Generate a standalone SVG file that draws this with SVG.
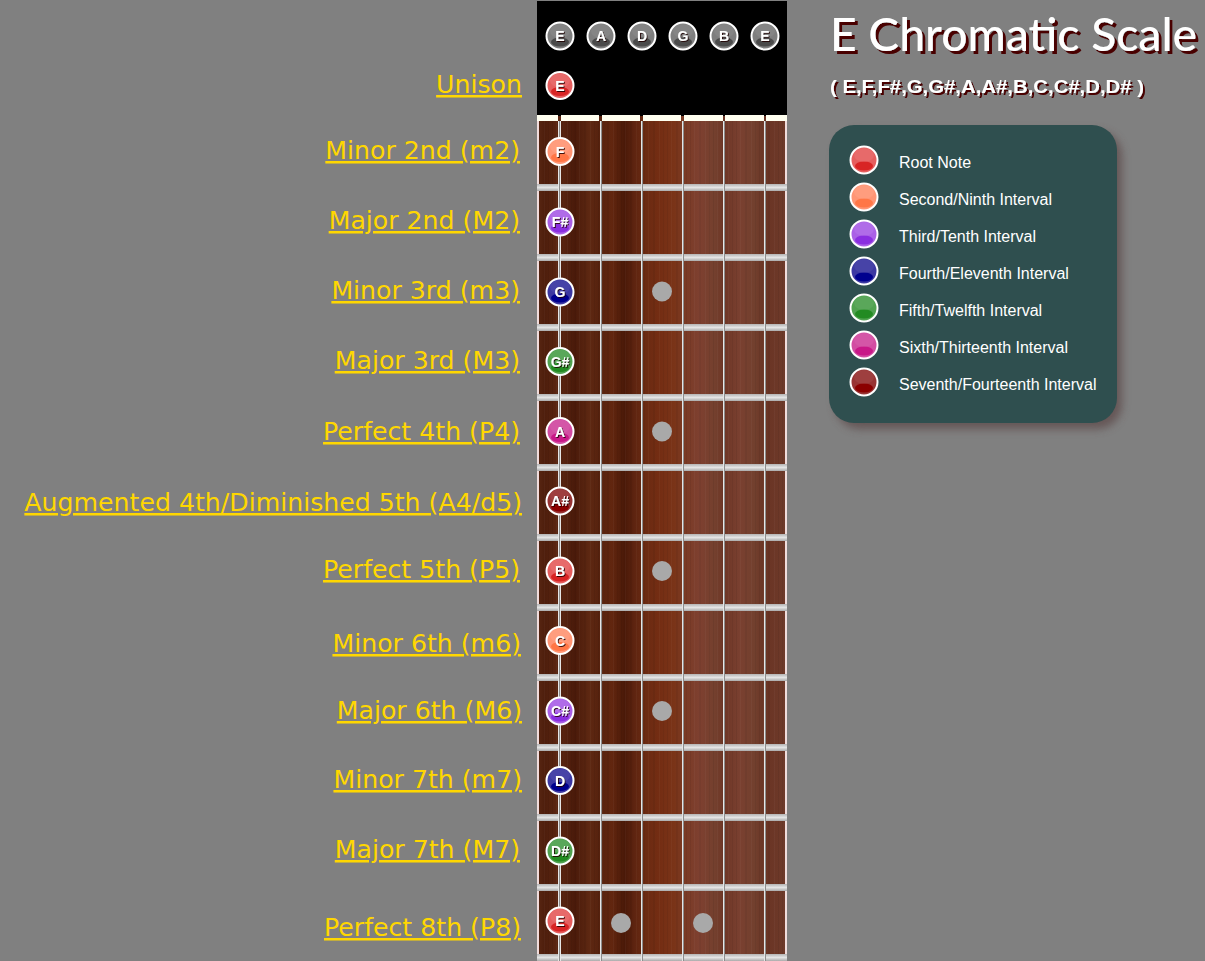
<svg xmlns="http://www.w3.org/2000/svg" xmlns:xlink="http://www.w3.org/1999/xlink" width="1205" height="961" viewBox="0 0 1205 961">
<style>
.lbl{font-family:"DejaVu Sans",Verdana,sans-serif;font-size:25.2px;fill:#ffd700;text-anchor:end;text-decoration:underline}
.nt{font-family:"Liberation Sans",Arial,sans-serif;font-size:14px;font-weight:bold;fill:#fff;text-anchor:middle;filter:url(#tsh)}
.lg{font-family:"Liberation Sans",Arial,sans-serif;font-size:16px;fill:#fff}
.inlay{fill:#a9a9a9}
.str1{stroke:#e6e6e6;stroke-width:1}
.str2{stroke:#8c8c8c;stroke-width:1}
.ring{stroke:#fff;stroke-width:2}
</style>
<defs>
<linearGradient id="wood" gradientUnits="userSpaceOnUse" x1="537" y1="0" x2="787" y2="0">
<stop offset="0" stop-color="#5a2814"/>
<stop offset="0.03" stop-color="#4e1e0c"/>
<stop offset="0.09" stop-color="#5c2612"/>
<stop offset="0.15" stop-color="#4a1a0a"/>
<stop offset="0.21" stop-color="#5e2812"/>
<stop offset="0.25" stop-color="#56220e"/>
<stop offset="0.30" stop-color="#62260f"/>
<stop offset="0.35" stop-color="#4a1908"/>
<stop offset="0.39" stop-color="#5e2410"/>
<stop offset="0.43" stop-color="#6a2a12"/>
<stop offset="0.49" stop-color="#742d13"/>
<stop offset="0.55" stop-color="#7a3418"/>
<stop offset="0.59" stop-color="#7a3a24"/>
<stop offset="0.65" stop-color="#7e4030"/>
<stop offset="0.71" stop-color="#74402e"/>
<stop offset="0.75" stop-color="#6e3626"/>
<stop offset="0.81" stop-color="#7a4030"/>
<stop offset="0.87" stop-color="#72402e"/>
<stop offset="0.91" stop-color="#6a3424"/>
<stop offset="1" stop-color="#6e3a2a"/>
</linearGradient>
<pattern id="grain" width="23" height="20" patternUnits="userSpaceOnUse">
<rect x="0" y="0" width="1" height="20" fill="#000" opacity="0.06"/>
<rect x="4" y="0" width="1" height="20" fill="#fff" opacity="0.03"/>
<rect x="9" y="0" width="2" height="20" fill="#000" opacity="0.05"/>
<rect x="15" y="0" width="1" height="20" fill="#fff" opacity="0.03"/>
<rect x="19" y="0" width="1" height="20" fill="#000" opacity="0.05"/>
</pattern>
<linearGradient id="fret" x1="0" y1="0" x2="0" y2="1">
<stop offset="0" stop-color="#b4b4b4"/>
<stop offset="0.5" stop-color="#e4e4e4"/>
<stop offset="1" stop-color="#aaaaaa"/>
</linearGradient>
<filter id="tsh" x="-30%" y="-30%" width="160%" height="160%">
<feDropShadow dx="1" dy="1" stdDeviation="0.4" flood-color="#200" flood-opacity="0.85"/>
</filter>
<filter id="titlesh" x="-5%" y="-20%" width="110%" height="150%">
<feDropShadow dx="3" dy="3" stdDeviation="0.3" flood-color="#4a0000" flood-opacity="1"/>
</filter>
<filter id="subsh" x="-5%" y="-20%" width="110%" height="150%">
<feDropShadow dx="2" dy="2" stdDeviation="0.3" flood-color="#4a0000" flood-opacity="1"/>
</filter>
<filter id="blur6" x="-20%" y="-20%" width="140%" height="140%">
<feGaussianBlur stdDeviation="4"/>
</filter>
<g id="c-root"><circle r="13.5" fill="#e55e5e" class="ring"/><ellipse cy="6" rx="9" ry="4.5" fill="#d82424"/><ellipse cy="-5" rx="10" ry="7" fill="#fff" opacity="0.08"/></g>
<g id="c-2"><circle r="13.5" fill="#ff9574" class="ring"/><ellipse cy="6" rx="9" ry="4.5" fill="#ff7646"/><ellipse cy="-5" rx="10" ry="7" fill="#fff" opacity="0.08"/></g>
<g id="c-3"><circle r="13.5" fill="#aa60e6" class="ring"/><ellipse cy="6" rx="9" ry="4.5" fill="#8a2ee0"/><ellipse cy="-5" rx="10" ry="7" fill="#fff" opacity="0.08"/></g>
<g id="c-4"><circle r="13.5" fill="#3c38a2" class="ring"/><ellipse cy="6" rx="9" ry="4.5" fill="#00008e"/><ellipse cy="-5" rx="10" ry="7" fill="#fff" opacity="0.06"/></g>
<g id="c-5"><circle r="13.5" fill="#50a250" class="ring"/><ellipse cy="6" rx="9" ry="4.5" fill="#228b22"/><ellipse cy="-5" rx="10" ry="7" fill="#fff" opacity="0.06"/></g>
<g id="c-6"><circle r="13.5" fill="#d24ca2" class="ring"/><ellipse cy="6" rx="9" ry="4.5" fill="#c81888"/><ellipse cy="-5" rx="10" ry="7" fill="#fff" opacity="0.06"/></g>
<g id="c-7"><circle r="13.5" fill="#983434" class="ring"/><ellipse cy="6" rx="9" ry="4.5" fill="#8b0000"/><ellipse cy="-5" rx="10" ry="7" fill="#fff" opacity="0.06"/></g>
<g id="c-open"><circle r="13.5" fill="#7e7e7e" class="ring"/><ellipse cy="6" rx="9" ry="4.5" fill="#4a4a4a"/><ellipse cy="-5" rx="10" ry="7" fill="#fff" opacity="0.06"/></g>
</defs>

<rect x="0" y="0" width="1205" height="961" fill="#808080"/>

<!-- header -->
<g id="header">
<rect x="537" y="1" width="250" height="115" fill="#000"/>
</g>

<!-- fretboard -->
<g id="fretboard">
<rect x="537" y="116" width="250" height="845" fill="url(#wood)"/>
<rect x="537" y="116" width="250" height="845" fill="url(#grain)"/>
<rect x="537" y="116" width="2" height="845" fill="#f0dcdc"/>
<rect x="785" y="116" width="2" height="845" fill="#f0dcdc"/>
<g id="nut" fill="#fffff0">
<rect x="537" y="115" width="21" height="6"/>
<rect x="561" y="115" width="38" height="6"/>
<rect x="602" y="115" width="38" height="6"/>
<rect x="643" y="115" width="38" height="6"/>
<rect x="684" y="115" width="39" height="6"/>
<rect x="725" y="115" width="39" height="6"/>
<rect x="766" y="115" width="21" height="6"/>
</g>
<g id="frets" fill="url(#fret)">
<rect x="537" y="184" width="250" height="7"/>
<rect x="537" y="254" width="250" height="7"/>
<rect x="537" y="324" width="250" height="7"/>
<rect x="537" y="394" width="250" height="7"/>
<rect x="537" y="464" width="250" height="7"/>
<rect x="537" y="534" width="250" height="7"/>
<rect x="537" y="604" width="250" height="7"/>
<rect x="537" y="674" width="250" height="7"/>
<rect x="537" y="744" width="250" height="7"/>
<rect x="537" y="814" width="250" height="7"/>
<rect x="537" y="884" width="250" height="7"/>
<rect x="537" y="954" width="250" height="7"/>
</g>
<g id="inlays">
<circle class="inlay" cx="662" cy="291.5" r="10"/>
<circle class="inlay" cx="662" cy="431.5" r="10"/>
<circle class="inlay" cx="662" cy="571" r="10"/>
<circle class="inlay" cx="662" cy="711" r="10"/>
<circle class="inlay" cx="621" cy="923" r="10"/>
<circle class="inlay" cx="703" cy="923" r="10"/>
</g>
<g id="strings">
<line class="str1" x1="558.5" y1="121" x2="558.5" y2="961"/>
<line class="str2" x1="559.5" y1="121" x2="559.5" y2="961"/>
<line class="str1" x1="560.5" y1="121" x2="560.5" y2="961"/>
<line class="str1" x1="600.5" y1="121" x2="600.5" y2="961"/>
<line class="str2" x1="601.5" y1="121" x2="601.5" y2="961"/>
<line class="str1" x1="641.5" y1="121" x2="641.5" y2="961"/>
<line class="str2" x1="642.5" y1="121" x2="642.5" y2="961"/>
<line class="str1" x1="682.5" y1="121" x2="682.5" y2="961"/>
<line class="str2" x1="683.5" y1="121" x2="683.5" y2="961"/>
<line class="str1" x1="723.5" y1="121" x2="723.5" y2="961"/>
<line class="str2" x1="724.5" y1="121" x2="724.5" y2="961"/>
<line class="str1" x1="764.5" y1="121" x2="764.5" y2="961"/>
<line class="str2" x1="765.5" y1="121" x2="765.5" y2="961"/>
</g>
</g>

<!-- open strings -->
<g id="open-strings">
<g id="open-E6"><use href="#c-open" x="560" y="36"/><text class="nt" x="560" y="41">E</text></g>
<g id="open-A"><use href="#c-open" x="601" y="36"/><text class="nt" x="601" y="41">A</text></g>
<g id="open-D"><use href="#c-open" x="642" y="36"/><text class="nt" x="642" y="41">D</text></g>
<g id="open-G"><use href="#c-open" x="683" y="36"/><text class="nt" x="683" y="41">G</text></g>
<g id="open-B"><use href="#c-open" x="724" y="36"/><text class="nt" x="724" y="41">B</text></g>
<g id="open-E1"><use href="#c-open" x="765" y="36"/><text class="nt" x="765" y="41">E</text></g>
</g>

<!-- scale notes -->
<g id="notes">
<g id="n-unison"><use href="#c-root" x="560" y="85.5"/><text class="nt" x="560" y="90.5">E</text></g>
<g id="n-F"><use href="#c-2" x="560" y="151.5"/><text class="nt" x="560" y="156.5">F</text></g>
<g id="n-Fs"><use href="#c-3" x="560" y="222"/><text class="nt" x="560" y="227">F#</text></g>
<g id="n-G"><use href="#c-4" x="560" y="292"/><text class="nt" x="560" y="297">G</text></g>
<g id="n-Gs"><use href="#c-5" x="560" y="361.5"/><text class="nt" x="560" y="366.5">G#</text></g>
<g id="n-A"><use href="#c-6" x="560" y="431.5"/><text class="nt" x="560" y="436.5">A</text></g>
<g id="n-As"><use href="#c-7" x="560" y="501"/><text class="nt" x="560" y="506">A#</text></g>
<g id="n-B"><use href="#c-root" x="560" y="571"/><text class="nt" x="560" y="576">B</text></g>
<g id="n-C"><use href="#c-2" x="560" y="640.5"/><text class="nt" x="560" y="645.5">C</text></g>
<g id="n-Cs"><use href="#c-3" x="560" y="711"/><text class="nt" x="560" y="716">C#</text></g>
<g id="n-D"><use href="#c-4" x="560" y="780.5"/><text class="nt" x="560" y="785.5">D</text></g>
<g id="n-Ds"><use href="#c-5" x="560" y="851"/><text class="nt" x="560" y="856">D#</text></g>
<g id="n-E"><use href="#c-root" x="560" y="921"/><text class="nt" x="560" y="926">E</text></g>
</g>

<!-- interval labels -->
<g id="labels">
<text class="lbl" x="522" y="93">Unison</text>
<text class="lbl" x="520" y="159">Minor 2nd (m2)</text>
<text class="lbl" x="520" y="229">Major 2nd (M2)</text>
<text class="lbl" x="520" y="299">Minor 3rd (m3)</text>
<text class="lbl" x="520" y="369">Major 3rd (M3)</text>
<text class="lbl" x="520" y="440">Perfect 4th (P4)</text>
<text class="lbl" x="522" y="511">Augmented 4th/Diminished 5th (A4/d5)</text>
<text class="lbl" x="520" y="578">Perfect 5th (P5)</text>
<text class="lbl" x="521" y="652">Minor 6th (m6)</text>
<text class="lbl" x="522" y="719">Major 6th (M6)</text>
<text class="lbl" x="522" y="788">Minor 7th (m7)</text>
<text class="lbl" x="520" y="858">Major 7th (M7)</text>
<text class="lbl" x="521" y="936">Perfect 8th (P8)</text>
</g>

<!-- title -->
<g id="title">
<text x="830" y="51" font-family="Lato,'Open Sans',sans-serif" font-weight="500" font-size="46" textLength="367" lengthAdjust="spacingAndGlyphs" fill="#fff" filter="url(#titlesh)">E Chromatic Scale</text>
<text x="830" y="93" font-family="'Liberation Sans',Arial,sans-serif" font-weight="bold" font-size="18" textLength="314" lengthAdjust="spacingAndGlyphs" fill="#fff" filter="url(#subsh)">( E,F,F#,G,G#,A,A#,B,C,C#,D,D# )</text>
</g>

<!-- legend -->
<g id="legend">
<rect x="835" y="131" width="287" height="298" rx="25" fill="#5a4444" opacity="0.7" filter="url(#blur6)"/>
<rect x="829" y="125" width="288" height="298" rx="25" fill="#2f4f4f"/>
<g id="lg-root"><use href="#c-root" x="864" y="160"/><text class="lg" x="899" y="168">Root Note</text></g>
<g id="lg-2"><use href="#c-2" x="864" y="197"/><text class="lg" x="899" y="205">Second/Ninth Interval</text></g>
<g id="lg-3"><use href="#c-3" x="864" y="234"/><text class="lg" x="899" y="242">Third/Tenth Interval</text></g>
<g id="lg-4"><use href="#c-4" x="864" y="271"/><text class="lg" x="899" y="279">Fourth/Eleventh Interval</text></g>
<g id="lg-5"><use href="#c-5" x="864" y="308"/><text class="lg" x="899" y="316">Fifth/Twelfth Interval</text></g>
<g id="lg-6"><use href="#c-6" x="864" y="345"/><text class="lg" x="899" y="353">Sixth/Thirteenth Interval</text></g>
<g id="lg-7"><use href="#c-7" x="864" y="382"/><text class="lg" x="899" y="390">Seventh/Fourteenth Interval</text></g>
</g>
</svg>
